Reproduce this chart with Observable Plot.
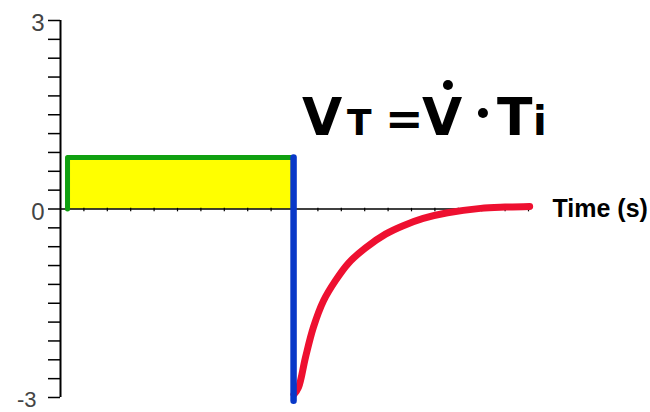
<!DOCTYPE html>
<html>
<head>
<meta charset="utf-8">
<script src="https://cdn.jsdelivr.net/npm/d3@7"></script>
<script src="https://cdn.jsdelivr.net/npm/@observablehq/plot@0.6"></script>
<style>
  html, body { margin: 0; padding: 0; background: #fff; }
  svg { display: block; }
</style>
</head>
<body>
<div id="chart"></div>
<script>
// Inspiration phase: constant flow (green level), volume = area (yellow)
const inspT = [0.3, 9.96];
const inspFlow = 0.82;
// Switch to expiration (blue drop)
const switchT = 9.96;
const expPeak = -3.05;
// Expiratory flow decay (red)
const expT = [9.98, 10.17, 10.47, 10.81, 11.24, 11.75, 12.31, 13.03, 13.89, 14.62, 15.5, 16.54, 17.95, 19.0, 20.05];
const expV = [-2.95, -2.84, -2.36, -1.88, -1.46, -1.14, -0.86, -0.62, -0.40, -0.27, -0.15, -0.06, 0.01, 0.03, 0.04];
// Axes
const yTicks = [-3, -2.7, -2.4, -2.1, -1.8, -1.5, -1.2, -0.9, -0.6, -0.3, 0, 0.3, 0.6, 0.9, 1.2, 1.5, 1.8, 2.1, 2.4, 2.7, 3];
const yLabelsUpper = [3, 0];
const yLabelsLower = [-3];
const xTicks = [1, 2, 3, 4, 5, 6, 7, 8, 9, 10, 11, 12, 13, 14, 15, 16, 17, 18, 19, 20];
const xLabel = "Time (s)";

const area = inspT.map(t => ({t, v: inspFlow}));
const greenPath = [{t: inspT[0], v: 0}, {t: inspT[0], v: inspFlow}, {t: inspT[1], v: inspFlow}];
const bluePath = [{t: switchT, v: inspFlow}, {t: switchT, v: expPeak}];
const redPath = expT.map((t, i) => ({t, v: expV[i]}));

const plot = Plot.plot({
  width: 650,
  height: 412,
  marginLeft: 60,
  marginRight: 122,
  marginTop: 20,
  marginBottom: 15,
  x: {domain: [0, 20], axis: null},
  y: {domain: [-3, 3], axis: null},
  style: {background: "#fff", overflow: "visible"},
  marks: [
    Plot.areaY(area, {x: "t", y1: 0, y2: "v", fill: "#ffff00"}),
    Plot.ruleY([0], {stroke: "#000", strokeWidth: 1.5}),
    Plot.ruleX(xTicks, {x: d => d, y1: -0.045, y2: 0.01, stroke: "#000", strokeWidth: 1.2}),
    Plot.axisY({ticks: yTicks, tickSize: 12, tickFormat: () => "", label: null, stroke: "#000", strokeWidth: 1.5}),
    Plot.ruleX([0], {stroke: "#000", strokeWidth: 2}),
    Plot.line(greenPath, {x: "t", y: "v", stroke: "#10a010", strokeWidth: 5, strokeLinejoin: "round", strokeLinecap: "round"}),
    Plot.line(redPath, {x: "t", y: "v", stroke: "#ee1030", strokeWidth: 7, curve: "catmull-rom", strokeLinecap: "round"}),
    Plot.line(bluePath, {x: "t", y: "v", stroke: "#0838c8", strokeWidth: 6.5, strokeLinecap: "round"}),
    Plot.text(yLabelsUpper, {x: 0, y: d => d, text: d => String(d), textAnchor: "end", dx: -16, dy: 3, fontSize: 24, fill: "#444", fontFamily: "Liberation Sans"}),
    Plot.text(yLabelsLower, {x: 0, y: d => d, text: d => String(d), textAnchor: "end", lineAnchor: "top", dx: -24, dy: -6, fontSize: 22, fill: "#444", fontFamily: "Liberation Sans"}),
    Plot.text([xLabel], {x: 20, y: 0, text: d => d, textAnchor: "start", dx: 24, fontSize: 25, fontWeight: "bold", fill: "#000", fontFamily: "Liberation Sans"})
  ]
});
document.getElementById("chart").appendChild(plot);

// Formula annotation: VT = V̇ · Ti
const sx = plot.scale("x"), sy = plot.scale("y");
const fx = sx.apply(10.34), fy = sy.apply(1.17);
const g = d3.select(plot).append("g")
  .attr("font-family", "DejaVu Sans")
  .attr("font-weight", "bold")
  .attr("text-anchor", "start")
  .attr("fill", "#000");
const parts = [
  {s: "V", dx: 0, size: 52},
  {s: "T", dx: 45, size: 36},
  {s: "=", dx: 83, size: 46},
  {s: "V", dx: 120, size: 52},
  {s: "T", dx: 195, size: 52},
  {s: "i", dx: 231, size: 40}
];
const txt = g.append("text").attr("x", fx).attr("y", fy).attr("text-anchor", "start");
for (const p of parts) {
  txt.append("tspan").attr("x", fx + p.dx).attr("font-size", p.size).text(p.s);
}
g.append("circle").attr("cx", fx + 146).attr("cy", fy - 50).attr("r", 5);
g.append("circle").attr("cx", fx + 181).attr("cy", fy - 22).attr("r", 5);
</script>
</body>
</html>
